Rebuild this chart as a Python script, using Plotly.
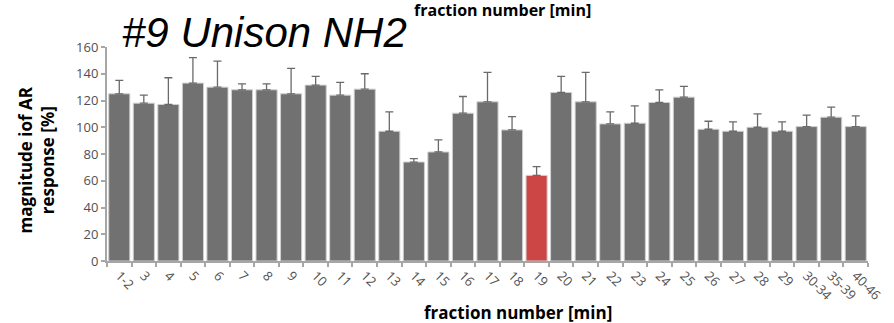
import plotly.graph_objects as go

categories = ["1-2", "3", "4", "5", "6", "7", "8", "9", "10", "11", "12", "13", "14", "15",
              "16", "17", "18", "19", "20", "21", "22", "23", "24", "25", "26", "27", "28",
              "29", "30-34", "35-39", "40-46"]
values = [125, 118, 117, 133, 130, 128, 128, 125, 131.5, 124, 128.5, 97, 74, 81.5,
          110.5, 119, 98, 64, 126, 119, 102.5, 103, 118.5, 122.5, 98.5, 97, 100,
          97, 100.5, 107.5, 100.5]
err_top = [135, 124, 137, 152, 149.5, 132.5, 132.5, 144, 138, 133.5, 140, 111.5, 76.5, 90.5,
           123, 141, 108, 70.5, 138, 141, 111.5, 116, 128, 130.5, 104.5, 104, 110,
           104, 109, 115, 108.5]
errors = [t - v for t, v in zip(err_top, values)]
highlight = "19"

colors = ["#cd4646" if c == highlight else "#717171" for c in categories]

fig = go.Figure()
fig.add_trace(go.Bar(
    x=categories, y=values,
    marker=dict(color=colors, line=dict(color="#d0d0d0", width=1)),
    error_y=dict(type="data", array=errors, arrayminus=[0] * len(errors), symmetric=False,
                 color="#6a6a6a", thickness=1.3, width=4),
))

font_family = "'Open Sans', sans-serif"
fig.update_layout(
    width=894, height=323,
    margin=dict(l=107, r=9, t=47, b=62),
    plot_bgcolor="white", paper_bgcolor="white",
    showlegend=False,
    bargap=0.14,
    font=dict(family=font_family, color="#505050", size=13),
    xaxis=dict(
        type="category", tickangle=45, showline=True, linecolor="#a6a6a6", linewidth=2,
        ticks="outside", tickcolor="#a6a6a6", ticklen=4, tickwidth=1.5, tickson="boundaries",
        showgrid=False, tickfont=dict(size=13, color="#505050"),
    ),
    yaxis=dict(
        range=[0, 160], dtick=20, showline=True, linecolor="#a6a6a6", linewidth=2,
        ticks="outside", tickcolor="#a6a6a6", ticklen=4, tickwidth=1.5,
        showgrid=False, zeroline=False, tickfont=dict(size=13, color="#505050"),
    ),
    annotations=[
        dict(text="<i>#9 Unison NH2</i>", xref="paper", yref="paper", x=0.017, y=1.0,
             xanchor="left", yanchor="bottom", showarrow=False,
             font=dict(family="Arial, 'Liberation Sans', sans-serif", size=42, color="black"),
             yshift=-11),
        dict(text="<b>fraction number [min]</b>", xref="paper", yref="paper", x=0.52, y=1.0,
             xanchor="center", yanchor="bottom", showarrow=False, yshift=24,
             font=dict(family=font_family, size=16, color="black")),
        dict(text="<b>fraction number [min]</b>", xref="paper", yref="paper", x=0.54, y=0,
             xanchor="center", yanchor="top", showarrow=False, yshift=-38,
             font=dict(family=font_family, size=17, color="black")),
        dict(text="<b>magnitude iof AR<br>response [%]</b>", xref="paper", yref="paper",
             x=0, y=0.47, xanchor="center", yanchor="middle", showarrow=False, textangle=-90,
             xshift=-71, font=dict(family=font_family, size=17, color="black")),
    ],
)

fig.write_html("out.html")
